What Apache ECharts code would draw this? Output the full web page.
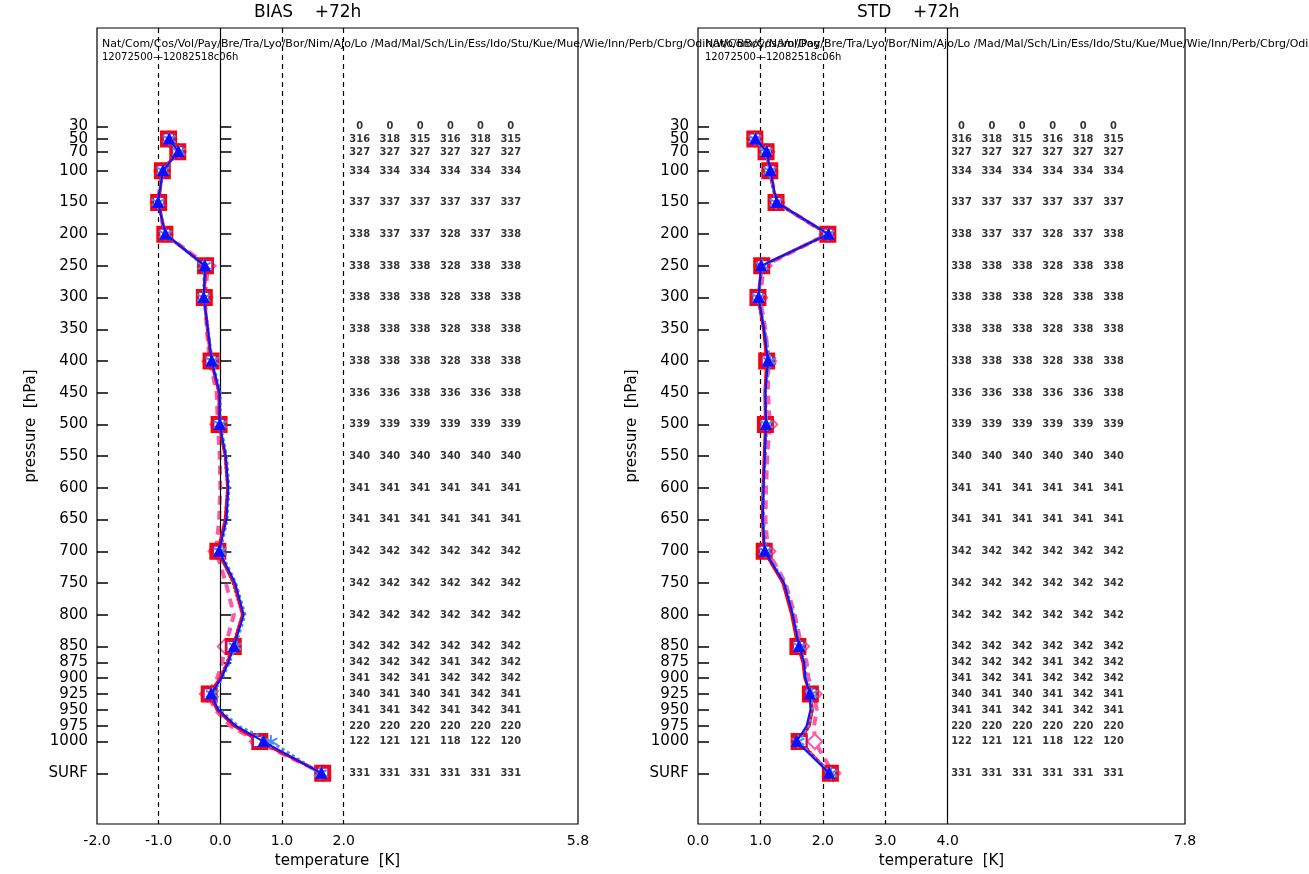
<!DOCTYPE html>
<html>
<head>
<meta charset="utf-8">
<script src="https://cdn.jsdelivr.net/npm/echarts@6/dist/echarts.min.js"></script>
<style>
  html, body { margin: 0; padding: 0; background: #fff; }
  #chart { width: 1309px; height: 874px; }
</style>
</head>
<body>
<div id="chart"></div>
<script>
var dom = document.getElementById('chart');
var myChart = echarts.init(dom, null, { renderer: 'canvas' });

// pressure levels (hPa); SURF is drawn below 1000
var levels = [30, 50, 70, 100, 150, 200, 250, 300, 350, 400, 450, 500, 550, 600, 650, 700,
              750, 800, 850, 875, 900, 925, 950, 975, 1000, 'SURF'];
var surfPos = 1050;
var markerLevels = [50, 70, 100, 150, 200, 250, 300, 400, 500, 700, 850, 925, 1000, 'SURF'];

// BIAS +72h
var biasRed     = [null, -0.84, -0.69, -0.94, -1.00, -0.90, -0.24, -0.26, -0.21, -0.15, -0.02, -0.02, 0.08, 0.12, 0.08, -0.04, 0.22, 0.36, 0.21, 0.12, 0.00, -0.18, -0.05, 0.22, 0.64, 1.66];
var biasCrimson = [null, -0.84, -0.69, -0.94, -1.00, -0.90, -0.22, -0.27, -0.19, -0.15, -0.03, -0.02, 0.07, 0.11, 0.07, -0.03, 0.20, 0.35, 0.19, 0.10, -0.01, -0.18, -0.06, 0.21, 0.62, 1.66];
var biasBlue    = [null, -0.83, -0.68, -0.93, -1.01, -0.89, -0.25, -0.27, -0.20, -0.14, -0.01, -0.01, 0.09, 0.13, 0.10, -0.02, 0.24, 0.38, 0.22, 0.13, 0.02, -0.15, -0.03, 0.25, 0.70, 1.64];
var biasPurple  = [null, -0.84, -0.68, -0.94, -1.00, -0.90, -0.23, -0.26, -0.20, -0.14, -0.02, -0.01, 0.08, 0.12, 0.09, -0.03, 0.21, 0.37, 0.20, 0.11, 0.01, -0.17, -0.04, 0.23, 0.66, 1.65];
var biasLtBlue  = [null, -0.83, -0.67, -0.93, -1.01, -0.89, -0.26, -0.27, -0.20, -0.13, 0.00, 0.00, 0.10, 0.14, 0.11, 0.00, 0.25, 0.40, 0.24, 0.15, 0.03, -0.13, -0.01, 0.28, 0.82, 1.62];
var biasPink    = [null, -0.83, -0.68, -0.95, -1.01, -0.90, -0.20, -0.25, -0.22, -0.17, -0.06, -0.04, -0.01, 0.00, -0.02, -0.07, 0.09, 0.22, 0.08, 0.03, -0.05, -0.21, -0.08, 0.16, 0.60, 1.66];

// STD +72h
var stdRed      = [null, 0.91, 1.09, 1.15, 1.25, 2.08, 1.02, 0.96, 1.05, 1.10, 1.07, 1.08, 1.06, 1.04, 1.03, 1.06, 1.36, 1.50, 1.60, 1.68, 1.71, 1.80, 1.83, 1.78, 1.62, 2.12];
var stdCrimson  = [null, 0.91, 1.09, 1.15, 1.25, 2.08, 1.03, 0.96, 1.05, 1.11, 1.08, 1.09, 1.07, 1.05, 1.04, 1.07, 1.37, 1.51, 1.61, 1.69, 1.72, 1.81, 1.84, 1.79, 1.65, 2.12];
var stdBlue     = [null, 0.92, 1.10, 1.16, 1.26, 2.09, 1.01, 0.97, 1.06, 1.12, 1.08, 1.09, 1.07, 1.05, 1.04, 1.07, 1.38, 1.52, 1.62, 1.70, 1.72, 1.79, 1.80, 1.74, 1.58, 2.10];
var stdPurple   = [null, 0.91, 1.09, 1.15, 1.25, 2.08, 1.02, 0.97, 1.06, 1.11, 1.08, 1.09, 1.07, 1.05, 1.04, 1.07, 1.37, 1.51, 1.61, 1.69, 1.72, 1.80, 1.82, 1.77, 1.63, 2.11];
var stdLtBlue   = [null, 0.91, 1.09, 1.15, 1.25, 2.08, 1.03, 0.97, 1.07, 1.15, 1.08, 1.10, 1.08, 1.05, 1.05, 1.08, 1.39, 1.53, 1.63, 1.71, 1.74, 1.82, 1.82, 1.77, 1.60, 2.13];
var stdPink     = [null, 0.91, 1.10, 1.15, 1.26, 2.07, 1.06, 0.99, 1.08, 1.13, 1.12, 1.15, 1.11, 1.09, 1.08, 1.12, 1.40, 1.55, 1.66, 1.74, 1.77, 1.86, 1.90, 1.86, 1.87, 2.16];

// number of observations per level, one column per experiment
var count1 = [0, 316, 327, 334, 337, 338, 338, 338, 338, 338, 336, 339, 340, 341, 341, 342, 342, 342, 342, 342, 341, 340, 341, 220, 122, 331];
var count2 = [0, 318, 327, 334, 337, 337, 338, 338, 338, 338, 336, 339, 340, 341, 341, 342, 342, 342, 342, 342, 342, 341, 341, 220, 121, 331];
var count3 = [0, 315, 327, 334, 337, 337, 338, 338, 338, 338, 338, 339, 340, 341, 341, 342, 342, 342, 342, 342, 341, 340, 342, 220, 121, 331];
var count4 = [0, 316, 327, 334, 337, 328, 328, 328, 328, 328, 336, 339, 340, 341, 341, 342, 342, 342, 342, 341, 342, 341, 341, 220, 118, 331];
var count5 = [0, 318, 327, 334, 337, 337, 338, 338, 338, 338, 336, 339, 340, 341, 341, 342, 342, 342, 342, 342, 342, 342, 342, 220, 122, 331];
var count6 = [0, 315, 327, 334, 337, 338, 338, 338, 338, 338, 338, 339, 340, 341, 341, 342, 342, 342, 342, 342, 342, 341, 341, 220, 120, 331];
var counts = [count1, count2, count3, count4, count5, count6];

var biasTicks = [-2, -1, 0, 1, 2, 5.8];
var stdTicks = [0, 1, 2, 3, 4, 7.8];

var stations = 'Nat/Com/Cos/Vol/Pay/Bre/Tra/Lyo/Bor/Nim/Ajo/Lo /Mad/Mal/Sch/Lin/Ess/Ido/Stu/Kue/Mue/Wie/Inn/Perb/Cbrg/Odin/Wo/BBoy/Nam/Dog';
var period = '12072500\u201412082518c06h';

function pos(p) { return p === 'SURF' ? surfPos : p; }
var tickVals = levels.map(pos);
// 50 hPa label is drawn by its own axis so it is not dropped where it overlaps 30/70
var labelVals = tickVals.filter(function (v) { return v !== 50; });

function toData(vals) {
  var out = [];
  vals.forEach(function (v, i) { if (v !== null) out.push([v, pos(levels[i])]); });
  return out;
}
var markerPos = markerLevels.map(pos);
function sizer(big) {
  return function (val) { return markerPos.indexOf(val[1]) >= 0 ? big : 0; };
}

var asterisk = 'path://M0,-10L0,10M-9,-5L9,5M-9,5L9,-5';
// drawn in this order (pink lowest, red/blue on top)
var styles = [
  { name: 'pink', color: '#ff5aa8', width: 4, type: [9, 6], symbol: 'emptyDiamond', size: 15 },
  { name: 'purple', color: '#8a3a9a', width: 2, type: 'dotted', symbol: 'circle', size: 9 },
  { name: 'red', color: '#ff0000', width: 3, type: 'solid', symbol: 'rect', size: 15 },
  { name: 'crimson', color: '#c8106a', width: 2, type: 'dotted', symbol: 'emptyRect', size: 11 },
  { name: 'ltblue', color: '#4a8fe6', width: 3, type: [3, 3], symbol: asterisk, size: 13 },
  { name: 'blue', color: '#1010ff', width: 2, type: 'solid', symbol: 'triangle', size: 9 }
];
var biasSets = [biasPink, biasPurple, biasRed, biasCrimson, biasLtBlue, biasBlue];
var stdSets = [stdPink, stdPurple, stdRed, stdCrimson, stdLtBlue, stdBlue];

var grids = [
  { left: 97, top: 28, width: 481, bottom: 48 },
  { left: 698, top: 28, width: 487, bottom: 48 }
];
var ranges = [[-2, 5.8], [0, 7.8]];

var option = {
  backgroundColor: '#fff',
  animation: false,
  textStyle: { fontFamily: 'DejaVu Sans', color: '#000' },
  grid: grids.map(function (g) {
    return Object.assign({ show: true, borderColor: '#000', borderWidth: 1.2, containLabel: false }, g);
  }),
  xAxis: [0, 1].map(function (k) {
    var ticks = k === 0 ? biasTicks : stdTicks;
    return {
      type: 'value', gridIndex: k, min: ranges[k][0], max: ranges[k][1],
      name: 'temperature  [K]', nameLocation: 'middle', nameGap: 30,
      nameTextStyle: { fontSize: 15, color: '#000' },
      axisLine: { show: false }, axisTick: { show: false }, splitLine: { show: false },
      axisLabel: {
        customValues: ticks, fontSize: 14, color: '#000', margin: 10,
        formatter: function (v) { return v.toFixed(1); }
      }
    };
  }),
  yAxis: [],
  graphic: [],
  series: []
};

function yLabelFmt(v) { return v === surfPos ? 'SURF' : String(v); }

[0, 1].forEach(function (k) {
  option.yAxis.push({
    type: 'value', gridIndex: k, position: 'left', inverse: true, min: -125, max: 1130,
    name: 'pressure  [hPa]', nameLocation: 'middle', nameGap: 58, nameRotate: 90,
    nameTextStyle: { fontSize: 15, color: '#000' },
    axisLine: { show: false, onZero: false }, splitLine: { show: false },
    axisTick: { show: true, inside: true, length: 11, customValues: tickVals, lineStyle: { color: '#000', width: 1.5 } },
    axisLabel: {
      customValues: labelVals, fontSize: 15, color: '#000', margin: 9, hideOverlap: false,
      formatter: yLabelFmt
    }
  });
});
// ticks along the zero line of the BIAS panel
option.yAxis.push({
  type: 'value', gridIndex: 0, position: 'left', inverse: true, min: -125, max: 1130,
  axisLine: { show: false, onZero: true }, splitLine: { show: false }, axisLabel: { show: false },
  axisTick: { show: true, inside: true, length: 11, customValues: tickVals, lineStyle: { color: '#000', width: 1.5 } }
});
// the 50 hPa label on both panels
[0, 1].forEach(function (k) {
  option.yAxis.push({
    type: 'value', gridIndex: k, position: 'left', inverse: true, min: -125, max: 1130,
    axisLine: { show: false, onZero: false }, splitLine: { show: false }, axisTick: { show: false },
    axisLabel: { customValues: [50], fontSize: 15, color: '#000', margin: 9, formatter: yLabelFmt }
  });
});

function vLines(k) {
  var defs = k === 0
    ? [[-1, 'dashed'], [0, 'solid'], [1, 'dashed'], [2, 'dashed']]
    : [[1, 'dashed'], [2, 'dashed'], [3, 'dashed'], [4, 'solid']];
  return {
    silent: true, symbol: 'none', label: { show: false },
    data: defs.map(function (d) {
      return { xAxis: d[0], lineStyle: { color: '#000', width: 1.2, type: d[1] === 'dashed' ? [5, 4] : 'solid' } };
    })
  };
}

[0, 1].forEach(function (k) {
  var sets = k === 0 ? biasSets : stdSets;
  sets.forEach(function (vals, j) {
    var s = styles[j];
    option.series.push({
      type: 'line', xAxisIndex: k, yAxisIndex: k, name: s.name,
      data: toData(vals),
      symbol: s.symbol, symbolSize: sizer(s.size), showAllSymbol: true,
      lineStyle: { color: s.color, width: s.width, type: s.type },
      itemStyle: { color: s.color, borderColor: s.color, borderWidth: 2 },
      markLine: j === 0 ? vLines(k) : undefined,
      z: 3 + j
    });
  });
  // count columns
  var colStart = k === 0 ? 2.26 : 4.22;
  var colStep = k === 0 ? 0.49 : 0.487;
  counts.forEach(function (col, c) {
    option.series.push({
      type: 'scatter', xAxisIndex: k, yAxisIndex: k, symbolSize: 0, silent: true,
      data: col.map(function (n, i) { return [colStart + c * colStep, pos(levels[i]), n]; }),
      label: {
        show: true, position: 'inside', fontSize: 11, fontWeight: 'bold', color: '#000',
        textBorderWidth: 0, fontFamily: 'DejaVu Sans Condensed',
        formatter: function (p) { return String(p.value[2]); }
      }
    });
  });
});

// titles and header texts
option.graphic = [
  { type: 'text', left: 254, top: 4, style: { text: 'BIAS    +72h', fontSize: 17, fill: '#000', fontFamily: 'DejaVu Sans' } },
  { type: 'text', left: 857, top: 4, style: { text: 'STD    +72h', fontSize: 17, fill: '#000', fontFamily: 'DejaVu Sans' } },
  { type: 'text', left: 102, top: 39, style: { text: stations, fontSize: 11, fill: '#000', fontFamily: 'DejaVu Sans' } },
  { type: 'text', left: 102, top: 52, style: { text: period, fontSize: 10, fill: '#000', fontFamily: 'DejaVu Sans' } },
  { type: 'text', left: 705, top: 39, style: { text: stations, fontSize: 11, fill: '#000', fontFamily: 'DejaVu Sans' } },
  { type: 'text', left: 705, top: 52, style: { text: period, fontSize: 10, fill: '#000', fontFamily: 'DejaVu Sans' } }
];

myChart.setOption(option);
window.addEventListener('resize', myChart.resize);
</script>
</body>
</html>
